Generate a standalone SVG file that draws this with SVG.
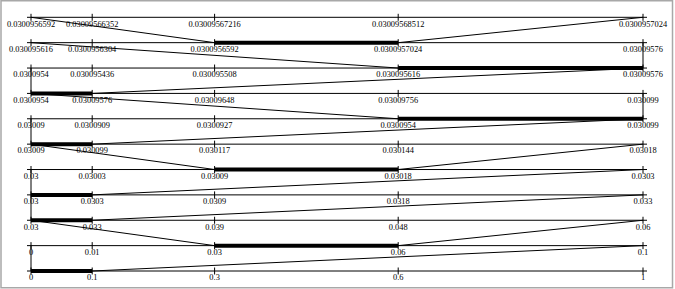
<svg xmlns="http://www.w3.org/2000/svg" width="675" height="289" viewBox="0 0 675 289">
<style>
.ax{stroke:#000;stroke-width:1;fill:none}
.tk{stroke:#000;stroke-width:1}
.hl{stroke:#000;stroke-width:4}
.cn{stroke:#000;stroke-width:1;fill:none}
text{font-family:"Liberation Serif","Times New Roman",serif;font-size:8.4px;fill:#000;text-anchor:middle}
</style>
<rect x="1" y="0.75" width="671.5" height="287" fill="#fff" stroke="#a8a8a8" stroke-width="1.5"/>
<defs>
<g id="ticks">
<line class="ax" x1="27" y1="0" x2="647" y2="0"/>
<line class="tk" x1="31" y1="-3.5" x2="31" y2="3.5"/>
<line class="tk" x1="92.2" y1="-3.5" x2="92.2" y2="3.5"/>
<line class="tk" x1="214.6" y1="-3.5" x2="214.6" y2="3.5"/>
<line class="tk" x1="398.2" y1="-3.5" x2="398.2" y2="3.5"/>
<line class="tk" x1="643" y1="-3.5" x2="643" y2="3.5"/>
</g>
</defs>
<g id="connectors">
<line class="cn" x1="214.6" y1="42.67" x2="31" y2="17.3"/>
<line class="cn" x1="398.2" y1="42.67" x2="643" y2="17.3"/>
<line class="cn" x1="398.2" y1="68.04" x2="31" y2="42.67"/>
<line class="cn" x1="643" y1="68.04" x2="643" y2="42.67"/>
<line class="cn" x1="31" y1="93.41" x2="31" y2="68.04"/>
<line class="cn" x1="92.2" y1="93.41" x2="643" y2="68.04"/>
<line class="cn" x1="398.2" y1="118.78" x2="31" y2="93.41"/>
<line class="cn" x1="643" y1="118.78" x2="643" y2="93.41"/>
<line class="cn" x1="31" y1="144.15" x2="31" y2="118.78"/>
<line class="cn" x1="92.2" y1="144.15" x2="643" y2="118.78"/>
<line class="cn" x1="214.6" y1="169.52" x2="31" y2="144.15"/>
<line class="cn" x1="398.2" y1="169.52" x2="643" y2="144.15"/>
<line class="cn" x1="31" y1="194.89" x2="31" y2="169.52"/>
<line class="cn" x1="92.2" y1="194.89" x2="643" y2="169.52"/>
<line class="cn" x1="31" y1="220.26" x2="31" y2="194.89"/>
<line class="cn" x1="92.2" y1="220.26" x2="643" y2="194.89"/>
<line class="cn" x1="214.6" y1="245.63" x2="31" y2="220.26"/>
<line class="cn" x1="398.2" y1="245.63" x2="643" y2="220.26"/>
<line class="cn" x1="31" y1="271" x2="31" y2="245.63"/>
<line class="cn" x1="92.2" y1="271" x2="643" y2="245.63"/>
</g>
<g id="axis0" transform="translate(0,17.3)">
<use href="#ticks"/>
<text x="31" y="9.3">0.0300956592</text><text x="92.2" y="9.3">0.03009566352</text><text x="214.6" y="9.3">0.03009567216</text><text x="398.2" y="9.3">0.03009568512</text><text x="643" y="9.3">0.0300957024</text>
</g>
<g id="axis1" transform="translate(0,42.67)">
<use href="#ticks"/>
<line class="hl" x1="214.6" y1="0" x2="398.2" y2="0"/>
<text x="31" y="9.3">0.030095616</text><text x="92.2" y="9.3">0.0300956304</text><text x="214.6" y="9.3">0.0300956592</text><text x="398.2" y="9.3">0.0300957024</text><text x="643" y="9.3">0.03009576</text>
</g>
<g id="axis2" transform="translate(0,68.04)">
<use href="#ticks"/>
<line class="hl" x1="398.2" y1="0" x2="643" y2="0"/>
<text x="31" y="9.3">0.0300954</text><text x="92.2" y="9.3">0.030095436</text><text x="214.6" y="9.3">0.030095508</text><text x="398.2" y="9.3">0.030095616</text><text x="643" y="9.3">0.03009576</text>
</g>
<g id="axis3" transform="translate(0,93.41)">
<use href="#ticks"/>
<line class="hl" x1="31" y1="0" x2="92.2" y2="0"/>
<text x="31" y="9.3">0.0300954</text><text x="92.2" y="9.3">0.03009576</text><text x="214.6" y="9.3">0.03009648</text><text x="398.2" y="9.3">0.03009756</text><text x="643" y="9.3">0.030099</text>
</g>
<g id="axis4" transform="translate(0,118.78)">
<use href="#ticks"/>
<line class="hl" x1="398.2" y1="0" x2="643" y2="0"/>
<text x="31" y="9.3">0.03009</text><text x="92.2" y="9.3">0.0300909</text><text x="214.6" y="9.3">0.0300927</text><text x="398.2" y="9.3">0.0300954</text><text x="643" y="9.3">0.030099</text>
</g>
<g id="axis5" transform="translate(0,144.15)">
<use href="#ticks"/>
<line class="hl" x1="31" y1="0" x2="92.2" y2="0"/>
<text x="31" y="9.3">0.03009</text><text x="92.2" y="9.3">0.030099</text><text x="214.6" y="9.3">0.030117</text><text x="398.2" y="9.3">0.030144</text><text x="643" y="9.3">0.03018</text>
</g>
<g id="axis6" transform="translate(0,169.52)">
<use href="#ticks"/>
<line class="hl" x1="214.6" y1="0" x2="398.2" y2="0"/>
<text x="31" y="9.3">0.03</text><text x="92.2" y="9.3">0.03003</text><text x="214.6" y="9.3">0.03009</text><text x="398.2" y="9.3">0.03018</text><text x="643" y="9.3">0.0303</text>
</g>
<g id="axis7" transform="translate(0,194.89)">
<use href="#ticks"/>
<line class="hl" x1="31" y1="0" x2="92.2" y2="0"/>
<text x="31" y="9.3">0.03</text><text x="92.2" y="9.3">0.0303</text><text x="214.6" y="9.3">0.0309</text><text x="398.2" y="9.3">0.0318</text><text x="643" y="9.3">0.033</text>
</g>
<g id="axis8" transform="translate(0,220.26)">
<use href="#ticks"/>
<line class="hl" x1="31" y1="0" x2="92.2" y2="0"/>
<text x="31" y="9.3">0.03</text><text x="92.2" y="9.3">0.033</text><text x="214.6" y="9.3">0.039</text><text x="398.2" y="9.3">0.048</text><text x="643" y="9.3">0.06</text>
</g>
<g id="axis9" transform="translate(0,245.63)">
<use href="#ticks"/>
<line class="hl" x1="214.6" y1="0" x2="398.2" y2="0"/>
<text x="31" y="9.3">0</text><text x="92.2" y="9.3">0.01</text><text x="214.6" y="9.3">0.03</text><text x="398.2" y="9.3">0.06</text><text x="643" y="9.3">0.1</text>
</g>
<g id="axis10" transform="translate(0,271)">
<use href="#ticks"/>
<line class="hl" x1="31" y1="0" x2="92.2" y2="0"/>
<text x="31" y="9.3">0</text><text x="92.2" y="9.3">0.1</text><text x="214.6" y="9.3">0.3</text><text x="398.2" y="9.3">0.6</text><text x="643" y="9.3">1</text>
</g>
</svg>
